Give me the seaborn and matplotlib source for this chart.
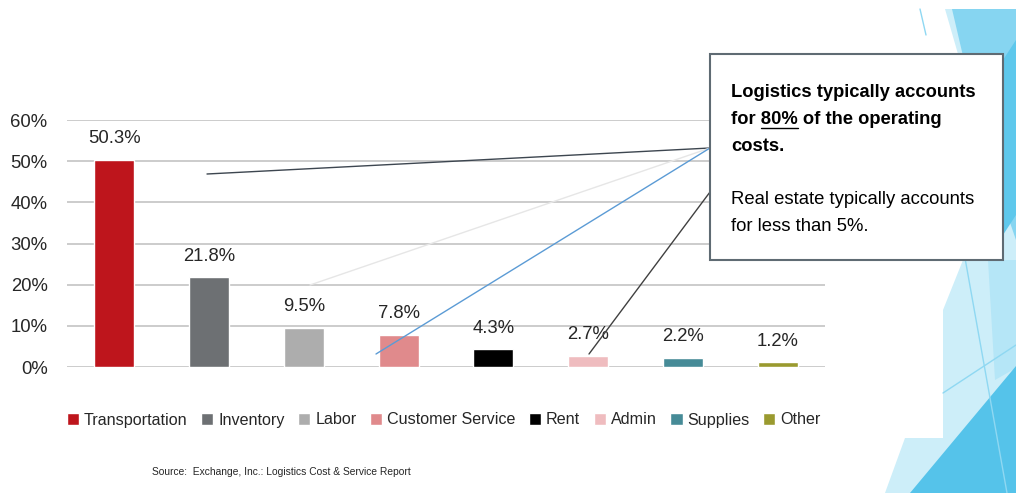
import matplotlib
matplotlib.use("Agg")
import matplotlib.pyplot as plt
import seaborn as sns
import pandas as pd
from matplotlib.patches import Polygon, Rectangle
from matplotlib.lines import Line2D
from matplotlib.ticker import FuncFormatter

# ---- data ----
categories = ["Transportation", "Inventory", "Labor", "Customer Service",
              "Rent", "Admin", "Supplies", "Other"]
values = [50.3, 21.8, 9.5, 7.8, 4.3, 2.7, 2.2, 1.2]
colors = ["#be151c", "#6d7073", "#adadad", "#e08a8c",
          "#000000", "#efbcbf", "#468b97", "#9a9a2f"]
y_ticks = [0, 10, 20, 30, 40, 50, 60]
note_bold = ["Logistics typically accounts", "for 80% of the operating", "costs."]
note_plain = ["Real estate typically accounts", "for less than 5%."]
source_text = "Source:  Exchange, Inc.: Logistics Cost & Service Report"

sns.set_theme(style="white")
plt.rcParams["font.family"] = ["Liberation Sans", "DejaVu Sans"]

W, H = 1016, 493
fig = plt.figure(figsize=(W / 100, H / 100), dpi=100)
fig.patch.set_facecolor("white")


def fx(x):
    return x / W


def fy(y):
    return 1 - y / H


def fp(pts):
    return [(fx(x), fy(y)) for x, y in pts]


# ---- background decoration (slide theme) ----
deco = [
    ([(945, 9), (1016, 9), (1016, 493), (885, 493), (905, 438), (943, 438),
      (943, 310), (965, 255), (958, 54)], "#cdeef9"),
    ([(952, 9), (1016, 9), (1016, 240), (985, 150)], "#86d5f1"),
    ([(1003, 60), (1016, 40), (1016, 215), (1003, 235)], "#5ec8ec"),
    ([(988, 260), (1016, 260), (1016, 368), (995, 380)], "#b5e6f7"),
    ([(1016, 366), (1016, 493), (910, 493)], "#55c3ea"),
]
for pts, c in deco:
    fig.add_artist(Polygon(fp(pts), closed=True, transform=fig.transFigure,
                           facecolor=c, edgecolor="none", zorder=0.5))
for (x0, y0), (x1, y1) in [((920, 9), (926, 35)), ((943, 393), (1016, 345)),
                           ((965, 258), (1007, 493))]:
    fig.add_artist(Line2D([fx(x0), fx(x1)], [fy(y0), fy(y1)],
                          transform=fig.transFigure, color="#8fd8f2", lw=1.0, zorder=0.6))

# ---- chart ----
ax = fig.add_axes([fx(67), fy(367), fx(825) - fx(67), fy(120) - fy(367)])
ax.set_facecolor("none")
df = pd.DataFrame({"cat": categories, "val": values})
sns.barplot(data=df, x="cat", y="val", hue="cat", palette=colors,
            hue_order=categories, order=categories, width=0.42,
            legend=True, ax=ax, saturation=1, zorder=3)
handles, labels = ax.get_legend_handles_labels()
if ax.get_legend() is not None:
    ax.get_legend().remove()

for cont in ax.containers:
    ax.bar_label(cont, fmt="%.1f%%", padding=9, fontsize=13.3, color="#262626")

ax.set_ylim(0, 60)
ax.set_xlim(-0.5, len(categories) - 0.5)
ax.set_yticks(y_ticks)
ax.yaxis.set_major_formatter(FuncFormatter(lambda v, p: f"{int(v)}%"))
ax.tick_params(axis="y", length=0, pad=14, labelsize=13.3, labelcolor="#262626")
ax.set_xticks([])
ax.set_xlabel("")
ax.set_ylabel("")
ax.grid(axis="y", color="#c8c8c8", lw=1.3, zorder=0)
for s in ax.spines.values():
    s.set_visible(False)

fig.legend(handles, labels, loc="center left",
           bbox_to_anchor=(fx(67), fy(420)), ncol=8, frameon=False,
           handlelength=0.75, handleheight=0.75, handletextpad=0.3,
           columnspacing=0.85, fontsize=11.6, borderaxespad=0, borderpad=0)

fig.text(fx(152), fy(472), source_text, fontsize=7.4, color="#262626",
         va="center", ha="left")

# ---- callout lines ----
anchor = (710, 148)
for start, end, col in [((207, 174), anchor, "#3d4650"),
                        ((310, 285), anchor, "#e6e6e6"),
                        ((376, 354), anchor, "#5b9bd5"),
                        ((589, 354), (710, 192), "#404040")]:
    fig.add_artist(Line2D([fx(start[0]), fx(end[0])], [fy(start[1]), fy(end[1])],
                          transform=fig.transFigure, color=col, lw=1.0, zorder=4))

# ---- callout box ----
fig.add_artist(Rectangle((fx(710), fy(260)), fx(1003) - fx(710), fy(54) - fy(260),
                         transform=fig.transFigure, facecolor="white",
                         edgecolor="#5f6b73", lw=1.5, zorder=5))
tx = 731
baselines_b = [97, 124, 151]
baselines_p = [204, 231]
for s, b in zip(note_bold, baselines_b):
    fig.text(fx(tx), fy(b), s, fontsize=13.2, fontweight="bold", color="black",
             va="baseline", ha="left", zorder=6)
for s, b in zip(note_plain, baselines_p):
    fig.text(fx(tx), fy(b), s, fontsize=13.3, color="black",
             va="baseline", ha="left", zorder=6)

# underline "80%"
renderer = fig.canvas.get_renderer()
t_a = fig.text(0, 0, "for 80%", fontsize=13.2, fontweight="bold")
t_b = fig.text(0, 0, "80%", fontsize=13.2, fontweight="bold")
wa = t_a.get_window_extent(renderer).width
wb = t_b.get_window_extent(renderer).width
t_a.remove()
t_b.remove()
u0 = tx + wa - wb
u1 = tx + wa
fig.add_artist(Line2D([fx(u0), fx(u1)], [fy(128), fy(128)],
                      transform=fig.transFigure, color="black", lw=1.0, zorder=6))

fig.savefig("out.png", dpi=100)
